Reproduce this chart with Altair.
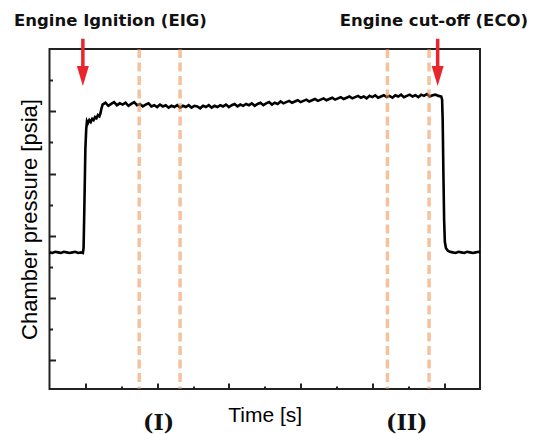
import altair as alt
import pandas as pd

X_DOMAIN = [-5, 55]
Y_DOMAIN = [-47, 500.5]

pre_time = [-5.0, -4.6, -4.2, -3.8, -3.4, -3.0, -2.6, -2.2, -1.8, -1.4, -1.0, -0.6, -0.35]
pre_pressure = [173, 172, 174, 173, 172, 174, 173, 172, 173, 174, 172, 173, 172]

rise_time = [-0.25, -0.15, 0.0, 0.12, 0.22, 0.35, 0.55, 0.75, 0.95, 1.15, 1.35, 1.55, 1.75, 1.95, 2.1, 2.25]
rise_pressure = [180, 240, 340, 372, 384, 381, 386, 383, 388, 386, 391, 389, 394, 392, 397, 405]

burn_time = [
    2.4, 2.8, 3.2, 3.6, 4.0, 4.4, 4.8, 5.2, 5.6, 6.0,
    6.4, 6.8, 7.2, 7.6, 8.0, 8.4, 8.8, 9.2, 9.6, 10.0,
    10.4, 10.8, 11.2, 11.6, 12.0, 12.4, 12.8, 13.2, 13.6, 14.0,
    14.4, 14.8, 15.2, 15.6, 16.0, 16.4, 16.8, 17.2, 17.6, 18.0,
    18.4, 18.8, 19.2, 19.6, 20.0, 20.4, 20.8, 21.2, 21.6, 22.0,
    22.4, 22.8, 23.2, 23.6, 24.0, 24.4, 24.8, 25.2, 25.6, 26.0,
    26.4, 26.8, 27.2, 27.6, 28.0, 28.4, 28.8, 29.2, 29.6, 30.0,
    30.4, 30.8, 31.2, 31.6, 32.0, 32.4, 32.8, 33.2, 33.6, 34.0,
    34.4, 34.8, 35.2, 35.6, 36.0, 36.4, 36.8, 37.2, 37.6, 38.0,
    38.4, 38.8, 39.2, 39.6, 40.0, 40.4, 40.8, 41.2, 41.6, 42.0,
    42.4, 42.8, 43.2, 43.6, 44.0, 44.4, 44.8, 45.2, 45.6, 46.0,
    46.4, 46.8, 47.2, 47.6, 48.0, 48.4, 48.8, 49.2, 49.6,
]
burn_pressure = [
    411, 414, 409, 412, 415, 410, 413, 411, 414, 409,
    412, 415, 410, 412, 408, 411, 413, 408, 410, 407,
    411, 408, 410, 406, 409, 407, 410, 406, 409, 407,
    410, 406, 409, 408, 405, 409, 407, 410, 406, 409,
    407, 410, 408, 411, 407, 410, 412, 408, 411, 409,
    412, 410, 413, 409, 412, 414, 410, 413, 415, 411,
    414, 412, 416, 413, 415, 417, 414, 416, 418, 415,
    417, 419, 416, 418, 420, 417, 419, 421, 418, 420,
    422, 419, 421, 423, 420, 422, 424, 421, 423, 425,
    422, 424, 421, 425, 423, 426, 422, 424, 426, 423,
    425, 422, 426, 424, 427, 423, 425, 427, 424, 426,
    423, 427, 425, 428, 424, 426, 427, 425, 424,
]

cut_time = [49.72, 49.8, 49.9, 50.0, 50.1, 50.25, 50.5, 50.8, 51.2, 51.6, 52.0, 52.4, 52.8,
            53.2, 53.6, 54.0, 54.4, 54.8, 55.0]
cut_pressure = [419, 385, 300, 225, 190, 180, 176, 174, 173, 172, 174, 173, 172,
                174, 173, 172, 173, 174, 173]

window_edges = [7.5, 13.2, 42.1, 47.9]
window_labels = ["(I)", "(II)"]
window_label_time = [10.2, 44.8]
window_label_pressure = [-113, -113]

event_labels = ["Engine Ignition (EIG)", "Engine cut-off (ECO)"]
event_label_time = [-9.95, 61.7]
event_label_pressure = [537, 537]

arrow_time = [-0.35, 49.1]
arrow_top = [517, 517]
arrow_base = [473, 473]
arrow_head = [457, 457]

x_major = [0, 10, 20, 30, 40, 50]
x_minor = [5, 15, 25, 35, 45]
y_major = [0, 100, 200, 300, 400]
y_minor = [50, 150, 250, 350, 450]

W, H = 430.5, 340
RED = "#E8262B"
INK = "#222222"

trace = pd.DataFrame({
    "t": pre_time + rise_time + burn_time + cut_time,
    "p": pre_pressure + rise_pressure + burn_pressure + cut_pressure,
})
arrows = pd.DataFrame({"t": arrow_time, "top": arrow_top, "base": arrow_base, "head": arrow_head})
edges = pd.DataFrame({"t": window_edges})
wlab = pd.DataFrame({"t": window_label_time, "p": window_label_pressure, "s": window_labels})
elab_l = pd.DataFrame({"t": event_label_time[:1], "p": event_label_pressure[:1], "s": event_labels[:1]})
elab_r = pd.DataFrame({"t": event_label_time[1:], "p": event_label_pressure[1:], "s": event_labels[1:]})

xs = alt.Scale(domain=X_DOMAIN, nice=False, zero=False)
ys = alt.Scale(domain=Y_DOMAIN, nice=False, zero=False)


def tick_axis(orient, offset, values, size):
    return alt.Axis(orient=orient, offset=offset, values=values, tickSize=size, tickWidth=2,
                    tickColor=INK, labels=False, domain=False, grid=False, title=None)


line = alt.Chart(trace).mark_line(color="black", strokeWidth=2.6).encode(
    x=alt.X("t:Q", scale=xs, axis=alt.Axis(orient="bottom", title="Time [s]", ticks=False, labels=False,
                                           domain=False, grid=False, titleFontSize=21,
                                           titleFont="Liberation Sans", titleFontWeight="normal",
                                           titleColor="#000000", titlePadding=15)),
    y=alt.Y("p:Q", scale=ys, axis=alt.Axis(orient="left", title="Chamber pressure [psia]", ticks=False,
                                           labels=False, domain=False, grid=False, titleFontSize=22,
                                           titleFont="Liberation Sans", titleFontWeight="normal",
                                           titleColor="#000000", titlePadding=8)),
)

shafts = alt.Chart(arrows).mark_rule(color=RED, strokeWidth=3.5).encode(
    x=alt.X("t:Q", scale=xs, axis=tick_axis("top", -H, x_major, 6)),
    y=alt.Y("top:Q", scale=ys, axis=tick_axis("right", -W, y_major, 6)),
    y2="base:Q",
)

heads = alt.Chart(arrows).mark_point(shape="M-0.6,-1L0.6,-1L0,1Z", size=400, filled=True,
                                     color=RED, opacity=1).encode(
    x=alt.X("t:Q", scale=xs, axis=tick_axis("top", -H, x_minor, 3)),
    y=alt.Y("head:Q", scale=ys, axis=tick_axis("right", -W, y_minor, 3)),
)

dashes = alt.Chart(edges).mark_rule(color="#EE8E4F", opacity=0.55, strokeWidth=3.5,
                                    strokeDash=[9, 4.5]).encode(
    x=alt.X("t:Q", scale=xs, axis=None),
)

wtext = alt.Chart(wlab).mark_text(font="DejaVu Serif", fontWeight="bold", fontSize=22,
                                  align="center", baseline="alphabetic", color="#111111").encode(
    x=alt.X("t:Q", scale=xs, axis=None), y=alt.Y("p:Q", scale=ys, axis=None), text="s:N")

etext_l = alt.Chart(elab_l).mark_text(font="DejaVu Sans", fontWeight="bold", fontSize=16.5,
                                      align="left", baseline="alphabetic", color="#111111").encode(
    x=alt.X("t:Q", scale=xs, axis=None), y=alt.Y("p:Q", scale=ys, axis=None), text="s:N")

etext_r = alt.Chart(elab_r).mark_text(font="DejaVu Sans", fontWeight="bold", fontSize=16.5,
                                      align="right", baseline="alphabetic", color="#111111").encode(
    x=alt.X("t:Q", scale=xs, axis=None), y=alt.Y("p:Q", scale=ys, axis=None), text="s:N")

chart = alt.layer(line, shafts, heads, dashes, wtext, etext_l, etext_r).resolve_axis(
    x="independent", y="independent"
).properties(
    width=W, height=H,
    autosize=alt.AutoSizeParams(type="none"),
    padding={"left": 41.5, "top": 41, "right": 50, "bottom": 52},
).configure_view(stroke=INK, strokeWidth=2)

chart.save("out.html", embed_options={"renderer": "svg", "actions": False})
